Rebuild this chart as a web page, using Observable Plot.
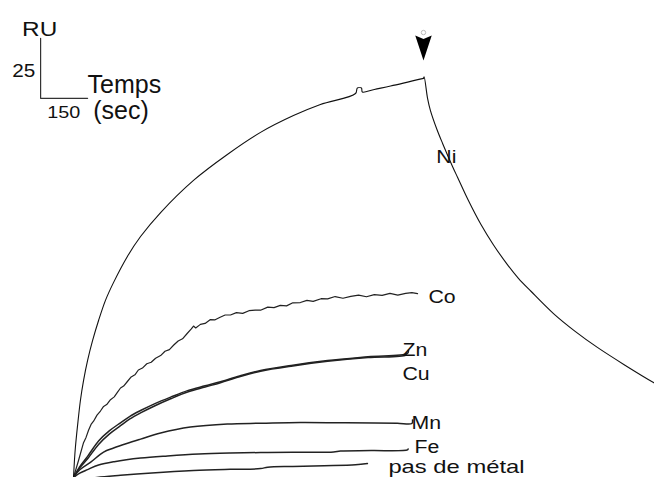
<!DOCTYPE html>
<html><head><meta charset="utf-8">
<script src="https://cdn.jsdelivr.net/npm/d3@7"></script>
<script src="https://cdn.jsdelivr.net/npm/@observablehq/plot@0.6"></script>
<style>
html,body{margin:0;padding:0;background:#fff;}
#chart svg{display:block;}
</style></head><body><div id="chart"></div>
<script>
// ---- Data: time (s) and response (RU) ----
const niAssocT  = [0, 3, 6, 13, 22, 32, 45, 61, 80, 102, 128, 172, 214, 278, 383, 491, 597, 702, 788, 900, 906, 919, 922, 960, 1012, 1117];
const niAssocRU = [0, 7.1, 12.5, 21.7, 32.1, 40.4, 48.8, 57.1, 65.4, 73.8, 81.3, 92.1, 100.4, 110.4, 123.8, 134.6, 143.8, 150.8, 155.4, 160, 162.3, 162.3, 160.6, 161.7, 163.1, 166.3];
const niDissT   = [1117, 1119, 1130, 1139, 1160, 1178, 1210, 1226, 1260, 1300, 1340, 1386, 1420, 1460, 1532, 1600, 1672, 1760, 1851, 1870];
const niDissRU  = [166.3, 167.0, 158, 153, 145, 139.2, 129.5, 125, 115.5, 105.5, 97, 88.5, 83, 77.6, 68.3, 61, 54.2, 46.8, 39.6, 38.3];

const coT  = [0, 16, 32, 40, 48, 56, 64, 75, 86, 96, 106, 118, 130, 140, 150, 160, 172, 184, 196, 207, 220, 234, 248, 262, 278, 292, 306, 320, 334, 348, 362, 376, 383, 390, 405, 420, 437, 452, 468, 484, 501, 520, 540, 560, 580, 597, 620, 640, 660, 680, 700, 724, 745, 765, 790, 811, 835, 860, 885, 910, 935, 960, 985, 1010, 1035, 1060, 1080, 1098];
const coRU = [0, 7.1, 14.5, 16.7, 19.7, 22.1, 23.45, 26.0, 27.7, 29.6, 30.4, 32.4, 33.6, 35.5, 37.3, 38.1, 40.0, 41.9, 42.8, 44.8, 45.6, 47.4, 48.0, 49.7, 50.8, 52.6, 53.3, 55.2, 56.9, 57.8, 59.9, 61.9, 63.1, 62.3, 63.8, 64.2, 65.8, 65.7, 66.8, 67.7, 67.7, 68.7, 68.4, 69.5, 69.7, 69.7, 71.0, 70.8, 71.7, 71.5, 72.8, 72.9, 73.8, 73.4, 74.5, 74.4, 75.4, 74.7, 75.5, 76.0, 75.3, 76.2, 75.9, 76.7, 76.0, 76.7, 77.0, 76.6];

const znT  = [0, 20, 45, 80, 115, 150, 180, 214, 260, 310, 364, 420, 469, 530, 597, 700, 811, 940, 1066, 1069];
const znRU = [0, 4.5, 8.8, 15.2, 19.5, 22.8, 25.5, 27.9, 30.8, 33.5, 36.2, 38.2, 39.9, 42.3, 44.6, 46.8, 48.7, 50.3, 51.7, 53.0];
const cuT  = [0, 20, 45, 80, 115, 150, 180, 214, 260, 310, 364, 420, 469, 530, 597, 700, 811, 940, 1060, 1062];
const cuRU = [0, 4.0, 7.8, 13.8, 18.2, 21.6, 24.4, 26.9, 29.9, 32.8, 35.6, 37.7, 39.5, 42.0, 44.3, 46.5, 48.4, 50.0, 51.0, 51.8];
const mnT  = [0, 20, 54, 96, 128, 170, 214, 278, 373, 491, 600, 724, 850, 960, 1034, 1080, 1082];
const mnRU = [0, 3.2, 6.3, 10.6, 12.3, 14.2, 16.0, 18.5, 21.0, 22.3, 22.6, 22.9, 22.8, 22.7, 22.6, 22.5, 24.0];
const feT  = [0, 20, 45, 80, 130, 214, 300, 400, 500, 597, 700, 830, 852, 950, 1066, 1068];
const feRU = [0, 1.8, 3.3, 5.2, 6.6, 8.1, 9.0, 9.8, 10.2, 10.4, 10.5, 10.6, 11.0, 11.2, 11.5, 11.9];
const noMetalT  = [0, 75, 150, 250, 383, 500, 597, 620, 700, 800, 900, 938];
const noMetalRU = [-1.5, 0, 0.9, 1.9, 2.9, 3.4, 3.7, 4.3, 4.6, 4.9, 5.3, 5.8];

// curve labels
const curveLabels   = ["Ni", "Co", "Zn", "Cu", "Mn", "Fe", "pas de métal"];
const curveLabelT   = [1158, 1133, 1050, 1050, 1079, 1088, 1005];
const curveLabelRU  = [133.7, 75, 52.9, 42.9, 22.5, 12.6, 4.2];

// scale bar (25 RU by 150 s) and its labels
const scaleBarT0 = -105, scaleBarRU0 = 158, scaleBarDT = 150, scaleBarDRU = 25;
const scaleLabels  = ["RU", "25", "Temps", "150", "(sec)"];
const scaleLabelT  = [-164, -195.6, 44.7, -84, 62.8];
const scaleLabelRU = [186.8, 169.3, 163.75, 151.9, 152.6];

// injection end marker
const injectionEndT = 1117, arrowRU = 179, arrowDotRU = 185.4;

// ---- Build tables ----
const zip = (name, ts, rus) => ts.map((t, i) => ({series: name, t, ru: rus[i]}));
const niRows = [...zip("Ni-assoc", niAssocT, niAssocRU), ...zip("Ni-diss", niDissT, niDissRU)];
const coRows = zip("Co", coT, coRU);
const otherRows = [
  ...zip("Zn", znT, znRU), ...zip("Cu", cuT, cuRU), ...zip("Mn", mnT, mnRU),
  ...zip("Fe", feT, feRU), ...zip("pas de métal", noMetalT, noMetalRU)
];
const scaleBarRows = [
  {t: scaleBarT0, ru: scaleBarRU0 + scaleBarDRU},
  {t: scaleBarT0, ru: scaleBarRU0},
  {t: scaleBarT0 + scaleBarDT, ru: scaleBarRU0}
];
const curveLabelRows = curveLabels.map((name, i) => ({name, t: curveLabelT[i], ru: curveLabelRU[i]}));
const scaleLabelRows = scaleLabels.map((name, i) => ({name, t: scaleLabelT[i], ru: scaleLabelRU[i]}));

// ---- Styles ----
const FONT = "'Liberation Sans', Arial, Helvetica, sans-serif";
const scaleFontSize = {"RU": 20, "25": 18.5, "Temps": 25, "150": 16.5, "(sec)": 25};
const curveFontSize = {"pas de métal": 17.5};
const stretch = {"RU": 1.22, "25": 1.12, "Temps": 1.0, "150": 1.2, "(sec)": 1.0,
  "Ni": 1.15, "Co": 1.15, "Zn": 1.15, "Cu": 1.15, "Mn": 1.15, "Fe": 1.15, "pas de métal": 1.36};

// arrowhead symbol pointing down, centred on its position
const arrowSymbol = {
  draw(context, size) {
    const r = Math.sqrt(size / Math.PI);
    context.moveTo(0, r);
    context.lineTo(-0.66 * r, -r);
    context.lineTo(0, -0.72 * r);
    context.lineTo(0.66 * r, -r);
    context.closePath();
  }
};

const W = 654, H = 477;
const chart = Plot.plot({
  width: W, height: H,
  marginTop: 0, marginRight: 0, marginBottom: 0, marginLeft: 0,
  x: {domain: [-233, 1854.3], axis: null},
  y: {domain: [0, 198.75], axis: null},
  style: {background: "#fff", fontFamily: FONT},
  marks: [
    Plot.line(otherRows, {x: "t", y: "ru", z: "series", stroke: "#222", strokeWidth: 1.5, curve: "catmull-rom"}),
    Plot.line(coRows, {x: "t", y: "ru", stroke: "#222", strokeWidth: 1.2, curve: "linear"}),
    Plot.line(niRows, {x: "t", y: "ru", z: "series", stroke: "#111", strokeWidth: 1.1, curve: "catmull-rom"}),
    Plot.line(scaleBarRows, {x: "t", y: "ru", stroke: "#333", strokeWidth: 1.2}),
    ...curveLabelRows.map(d => Plot.text([d], {x: "t", y: "ru", text: "name", textAnchor: "start", lineAnchor: "middle", fontSize: curveFontSize[d.name] || 18.5, fill: "#111"})),
    ...scaleLabelRows.map(d => Plot.text([d], {x: "t", y: "ru", text: "name", textAnchor: "start", lineAnchor: "middle", fontSize: scaleFontSize[d.name], fill: "#111"})),
    Plot.dot([{t: injectionEndT, ru: arrowRU}], {x: "t", y: "ru", r: 12.5, symbol: arrowSymbol, fill: "#000", stroke: "none"}),
    Plot.dot([{t: injectionEndT, ru: arrowDotRU}], {x: "t", y: "ru", r: 2.2, fill: "#fff", stroke: "#bbb", strokeWidth: 1})
  ]
});

// horizontal stretch of text about its left edge, as in the reference lettering
chart.querySelectorAll("text").forEach(el => {
  const s = stretch[el.textContent];
  if (!s || s === 1) return;
  const xa = el.getAttribute("x");
  const x = xa && /^-?[\d.]+$/.test(xa.trim()) ? +xa : 0;
  const tr = el.getAttribute("transform") || "";
  el.setAttribute("transform", `${tr} translate(${x},0) scale(${s},1)`);
  if (xa && x !== 0) el.setAttribute("x", 0);
});

document.getElementById("chart").appendChild(chart);
</script>
</body></html>
